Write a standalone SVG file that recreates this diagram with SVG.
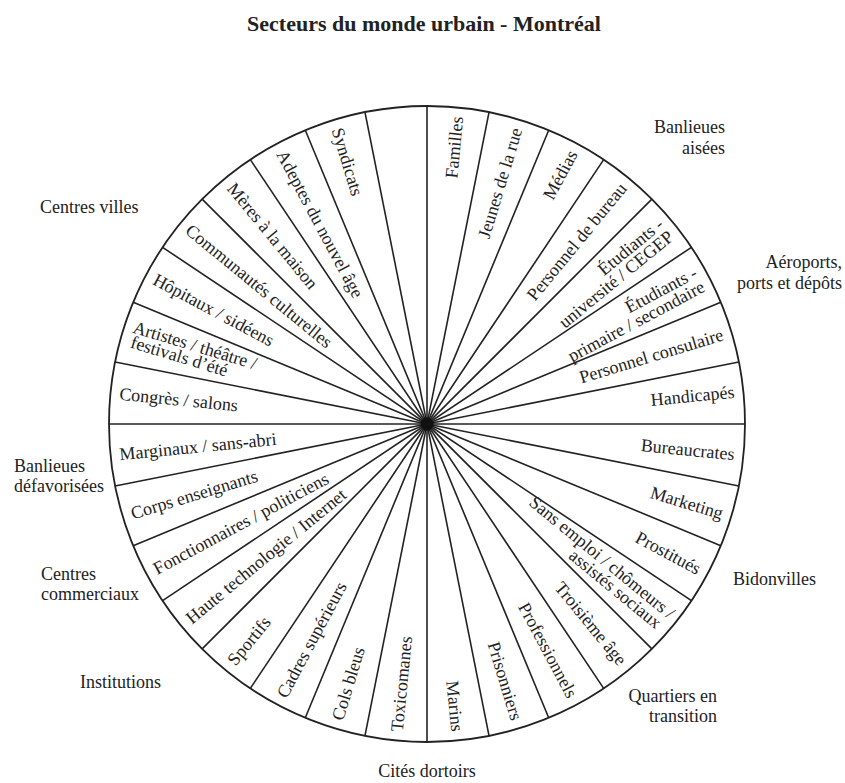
<svg xmlns="http://www.w3.org/2000/svg" width="845" height="783" viewBox="0 0 845 783">
<style>
text { font-family: "Liberation Serif", "Times New Roman", serif; font-size: 18px; fill: #222; }
.title { font-size: 22px; font-weight: bold; text-anchor: middle; }
.r { text-anchor: end; }
.l { text-anchor: start; }
.m { text-anchor: middle; }
.spk { stroke: #222; stroke-width: 1.6; fill: none; }
</style>
<rect width="845" height="783" fill="#ffffff"/>
<text class="title" x="424" y="31">Secteurs du monde urbain - Montréal</text>

<g id="wheel">
  <circle cx="427" cy="424" r="318" fill="#ffffff" stroke="#222" stroke-width="1.8"/>
</g>
<g id="connectors" class="spk">
  <line x1="745" y1="424" x2="109" y2="424"/>
  <line x1="738.89" y1="486.04" x2="115.11" y2="361.96"/>
  <line x1="720.79" y1="545.69" x2="133.21" y2="302.31"/>
  <line x1="691.41" y1="600.67" x2="162.59" y2="247.33"/>
  <line x1="651.86" y1="648.86" x2="202.14" y2="199.14"/>
  <line x1="603.67" y1="688.41" x2="250.33" y2="159.59"/>
  <line x1="548.69" y1="717.79" x2="305.31" y2="130.21"/>
  <line x1="489.04" y1="735.89" x2="364.96" y2="112.11"/>
  <line x1="427" y1="742" x2="427" y2="106"/>
  <line x1="364.96" y1="735.89" x2="489.04" y2="112.11"/>
  <line x1="305.31" y1="717.79" x2="548.69" y2="130.21"/>
  <line x1="250.33" y1="688.41" x2="603.67" y2="159.59"/>
  <line x1="202.14" y1="648.86" x2="651.86" y2="199.14"/>
  <line x1="162.59" y1="600.67" x2="691.41" y2="247.33"/>
  <line x1="133.21" y1="545.69" x2="720.79" y2="302.31"/>
  <line x1="115.11" y1="486.04" x2="738.89" y2="361.96"/>
  <circle cx="427" cy="424" r="6.5" fill="#111" stroke="none"/>
</g>

<g id="s-familles"><text class="r" x="736" y="430" transform="rotate(-84.375 427 424)">Familles</text></g>
<g id="s-jeunes"><text class="r" x="736" y="430" transform="rotate(-73.125 427 424)">Jeunes de la rue</text></g>
<g id="s-medias"><text class="r" x="736" y="430" transform="rotate(-61.875 427 424)">Médias</text></g>
<g id="s-bureau"><text class="r" x="736" y="430" transform="rotate(-50.625 427 424)">Personnel de bureau</text></g>
<g id="s-etu-univ"><text class="r" transform="rotate(-39.375 427 424)"><tspan x="736" y="422">Étudiants -</tspan><tspan x="736" y="438">université / CEGEP</tspan></text></g>
<g id="s-etu-prim"><text class="r" transform="rotate(-28.125 427 424)"><tspan x="736" y="422">Étudiants -</tspan><tspan x="736" y="438">primaire / secondaire</tspan></text></g>
<g id="s-consul"><text class="r" x="736" y="430" transform="rotate(-16.875 427 424)">Personnel consulaire</text></g>
<g id="s-handi"><text class="r" x="736" y="428" transform="rotate(-5.625 427 424)">Handicapés</text></g>
<g id="s-bureaucrates"><text class="r" x="736" y="430" transform="rotate(5.625 427 424)">Bureaucrates</text></g>
<g id="s-marketing"><text class="r" x="736" y="430" transform="rotate(16.875 427 424)">Marketing</text></g>
<g id="s-prostitues"><text class="r" x="736" y="430" transform="rotate(28.125 427 424)">Prostitués</text></g>
<g id="s-sansemploi"><text class="r" transform="rotate(39.375 427 424)"><tspan x="738" y="422">Sans emploi / chômeurs /</tspan><tspan x="734" y="438">assistés sociaux</tspan></text></g>
<g id="s-troisieme"><text class="r" x="736" y="430" transform="rotate(50.625 427 424)">Troisième âge</text></g>
<g id="s-professionnels"><text class="r" x="736" y="430" transform="rotate(61.875 427 424)">Professionnels</text></g>
<g id="s-prisonniers"><text class="r" x="736" y="430" transform="rotate(73.125 427 424)">Prisonniers</text></g>
<g id="s-marins"><text class="r" x="736" y="430" transform="rotate(84.375 427 424)">Marins</text></g>

<g id="s-toxicomanes"><text class="l" x="118" y="430" transform="rotate(-84.375 427 424)">Toxicomanes</text></g>
<g id="s-colsbleus"><text class="l" x="118" y="430" transform="rotate(-73.125 427 424)">Cols bleus</text></g>
<g id="s-cadres"><text class="l" x="118" y="430" transform="rotate(-61.875 427 424)">Cadres supérieurs</text></g>
<g id="s-sportifs"><text class="l" x="118" y="430" transform="rotate(-50.625 427 424)">Sportifs</text></g>
<g id="s-hautetech"><text class="l" x="118" y="430" transform="rotate(-39.375 427 424)">Haute technologie / Internet</text></g>
<g id="s-fonction"><text class="l" x="118" y="430" transform="rotate(-28.125 427 424)">Fonctionnaires / politiciens</text></g>
<g id="s-corps"><text class="l" x="118" y="430" transform="rotate(-16.875 427 424)">Corps enseignants</text></g>
<g id="s-marginaux"><text class="l" x="118" y="430" transform="rotate(-5.625 427 424)">Marginaux / sans-abri</text></g>
<g id="s-congres"><text class="l" x="118" y="430" transform="rotate(5.625 427 424)">Congrès / salons</text></g>
<g id="s-artistes"><text class="l" transform="rotate(16.875 427 424)"><tspan x="118" y="422">Artistes / théâtre /</tspan><tspan x="120" y="437">festivals d’été</tspan></text></g>
<g id="s-hopitaux"><text class="l" x="118" y="430" transform="rotate(28.125 427 424)">Hôpitaux / sidéens</text></g>
<g id="s-communautes"><text class="l" x="118" y="430" transform="rotate(39.375 427 424)">Communautés culturelles</text></g>
<g id="s-meres"><text class="l" x="118" y="430" transform="rotate(50.625 427 424)">Mères à la maison</text></g>
<g id="s-adeptes"><text class="l" x="118" y="430" transform="rotate(61.875 427 424)">Adeptes du nouvel âge</text></g>
<g id="s-syndicats"><text class="l" x="118" y="430" transform="rotate(73.125 427 424)">Syndicats</text></g>

<g id="regions">
  <text class="l" x="40" y="213">Centres villes</text>
  <text class="r"><tspan x="725" y="133">Banlieues</tspan><tspan x="725" y="154">aisées</tspan></text>
  <text class="r"><tspan x="842" y="268">Aéroports,</tspan><tspan x="842" y="289">ports et dépôts</tspan></text>
  <text class="l" x="733" y="585">Bidonvilles</text>
  <text class="r"><tspan x="717" y="702">Quartiers en</tspan><tspan x="717" y="722">transition</tspan></text>
  <text class="m" x="427" y="777">Cités dortoirs</text>
  <text class="l" x="80" y="688">Institutions</text>
  <text class="l"><tspan x="41" y="580">Centres</tspan><tspan x="41" y="600">commerciaux</tspan></text>
  <text class="l"><tspan x="14" y="472">Banlieues</tspan><tspan x="14" y="492">défavorisées</tspan></text>
</g>
</svg>
